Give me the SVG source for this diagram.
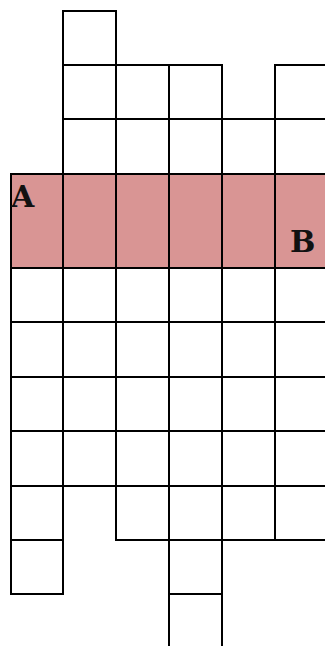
<svg xmlns="http://www.w3.org/2000/svg" width="325" height="646" viewBox="0 0 325 646">
<style>
.c{fill:#ffffff;stroke:#000;stroke-width:2}
.p{fill:#d99594;stroke:#000;stroke-width:2}
.t{font-family:"DejaVu Serif","Liberation Serif",serif;font-weight:bold;font-size:30px;fill:#111}
</style>
<rect width="325" height="646" fill="#ffffff"/>
<g id="top">
<rect class="c" x="63" y="11" width="53" height="54"/>
<rect class="c" x="63" y="65" width="53" height="54"/>
<rect class="c" x="116" y="65" width="53" height="54"/>
<rect class="c" x="169" y="65" width="53" height="54"/>
<rect class="c" x="275" y="65" width="53" height="54"/>
<rect class="c" x="63" y="119" width="53" height="55"/>
<rect class="c" x="116" y="119" width="53" height="55"/>
<rect class="c" x="169" y="119" width="53" height="55"/>
<rect class="c" x="222" y="119" width="53" height="55"/>
<rect class="c" x="275" y="119" width="53" height="55"/>
</g>
<g id="band">
<rect class="p" x="11" y="174" width="52" height="94"/>
<rect class="p" x="63" y="174" width="53" height="94"/>
<rect class="p" x="116" y="174" width="53" height="94"/>
<rect class="p" x="169" y="174" width="53" height="94"/>
<rect class="p" x="222" y="174" width="53" height="94"/>
<rect class="p" x="275" y="174" width="53" height="94"/>
<text class="t" x="11" y="207">A</text>
<text class="t" x="290" y="252">B</text>
</g>
<g id="middle">
<rect class="c" x="11" y="268" width="52" height="54"/><rect class="c" x="63" y="268" width="53" height="54"/><rect class="c" x="116" y="268" width="53" height="54"/><rect class="c" x="169" y="268" width="53" height="54"/><rect class="c" x="222" y="268" width="53" height="54"/><rect class="c" x="275" y="268" width="53" height="54"/>
<rect class="c" x="11" y="322" width="52" height="55"/><rect class="c" x="63" y="322" width="53" height="55"/><rect class="c" x="116" y="322" width="53" height="55"/><rect class="c" x="169" y="322" width="53" height="55"/><rect class="c" x="222" y="322" width="53" height="55"/><rect class="c" x="275" y="322" width="53" height="55"/>
<rect class="c" x="11" y="377" width="52" height="54"/><rect class="c" x="63" y="377" width="53" height="54"/><rect class="c" x="116" y="377" width="53" height="54"/><rect class="c" x="169" y="377" width="53" height="54"/><rect class="c" x="222" y="377" width="53" height="54"/><rect class="c" x="275" y="377" width="53" height="54"/>
<rect class="c" x="11" y="431" width="52" height="55"/><rect class="c" x="63" y="431" width="53" height="55"/><rect class="c" x="116" y="431" width="53" height="55"/><rect class="c" x="169" y="431" width="53" height="55"/><rect class="c" x="222" y="431" width="53" height="55"/><rect class="c" x="275" y="431" width="53" height="55"/>
</g>
<g id="bottom">
<rect class="c" x="11" y="486" width="52" height="54"/>
<rect class="c" x="116" y="486" width="53" height="54"/>
<rect class="c" x="169" y="486" width="53" height="54"/>
<rect class="c" x="222" y="486" width="53" height="54"/>
<rect class="c" x="275" y="486" width="53" height="54"/>
<rect class="c" x="11" y="540" width="52" height="54"/>
<rect class="c" x="169" y="540" width="53" height="54"/>
<rect class="c" x="169" y="594" width="53" height="56"/>
</g>
</svg>
